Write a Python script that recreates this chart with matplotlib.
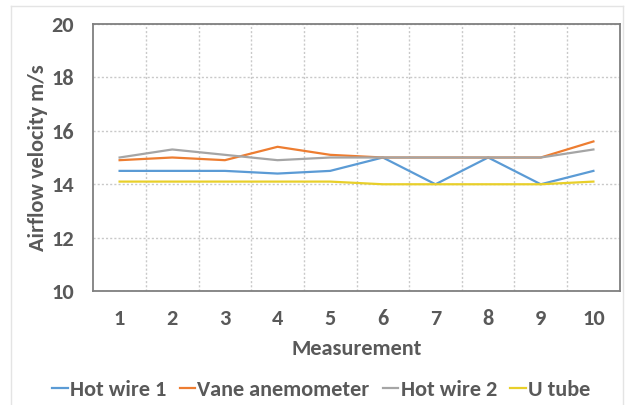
import matplotlib
matplotlib.use("Agg")
import matplotlib.pyplot as plt
from matplotlib.lines import Line2D

plt.rcParams['font.family'] = ['Carlito', 'DejaVu Sans']

measurements = [1, 2, 3, 4, 5, 6, 7, 8, 9, 10]
hot_wire_1 = [14.5, 14.5, 14.5, 14.4, 14.5, 15.0, 14.0, 15.0, 14.0, 14.5]
vane_anemometer = [14.9, 15.0, 14.9, 15.4, 15.1, 15.0, 15.0, 15.0, 15.0, 15.6]
hot_wire_2 = [15.0, 15.3, 15.1, 14.9, 15.0, 15.0, 15.0, 15.0, 15.0, 15.3]
u_tube = [14.1, 14.1, 14.1, 14.1, 14.1, 14.0, 14.0, 14.0, 14.0, 14.1]
series_names = ["Hot wire 1", "Vane anemometer", "Hot wire 2", "U tube"]
y_ticks = [10, 12, 14, 16, 18, 20]

colors = ["#5B9BD5", "#ED7D31", "#A5A5A5", "#E8CF2A"]
text_color = "#595959"
fs = 16

fig = plt.figure(figsize=(6.26, 4.05), dpi=100)
ax = fig.add_axes([0.149, 0.2807, 0.841, 0.6608])

for vals, name, c in zip([hot_wire_1, vane_anemometer, hot_wire_2, u_tube],
                         series_names, colors):
    ax.plot(measurements, vals, color=c, lw=1.6, label=name, zorder=3)

ax.set_xlim(0.5, 10.5)
ax.set_ylim(10, 20)
ax.set_yticks(y_ticks)
ax.set_xticks(measurements)
ax.set_xticks([m + 0.5 for m in measurements[:-1]], minor=True)

ax.grid(axis='y', which='major', linestyle=(0, (1.5, 1.5)), color="#C9C9C9", lw=1)
ax.grid(axis='x', which='minor', linestyle=(0, (1.5, 1.5)), color="#C9C9C9", lw=1)
ax.tick_params(which='both', length=0)
ax.tick_params(axis='x', pad=13, labelsize=fs, labelcolor=text_color)
ax.tick_params(axis='y', pad=14, labelsize=fs, labelcolor=text_color)
for lbl in ax.get_xticklabels() + ax.get_yticklabels():
    lbl.set_fontweight('bold')

for s in ax.spines.values():
    s.set_color("#7F7F7F")
    s.set_linewidth(1.3)

ax.set_xlabel("Measurement", fontsize=fs, fontweight='bold', color=text_color, labelpad=7)
ax.set_ylabel("Airflow velocity m/s", fontsize=fs, fontweight='bold', color=text_color, labelpad=2)

leg = fig.legend(loc='center', bbox_to_anchor=(0.513, 0.038), ncol=4, frameon=False,
                 handlelength=0.7, handletextpad=0.1, columnspacing=0.6,
                 prop={'weight': 'bold', 'size': fs})
for t in leg.get_texts():
    t.set_color(text_color)

# thin outer frame around the chart
W, H = 626, 405
frame_kw = dict(color="#E4E4E4", lw=1, transform=fig.transFigure)
fig.add_artist(Line2D([11 / W, 11 / W], [0, 1 - 6 / H], **frame_kw))
fig.add_artist(Line2D([11 / W, 623 / W], [1 - 6 / H, 1 - 6 / H], **frame_kw))
fig.add_artist(Line2D([623 / W, 623 / W], [0, 1 - 6 / H], **frame_kw))

fig.savefig("out.png", dpi=100, facecolor="white")
